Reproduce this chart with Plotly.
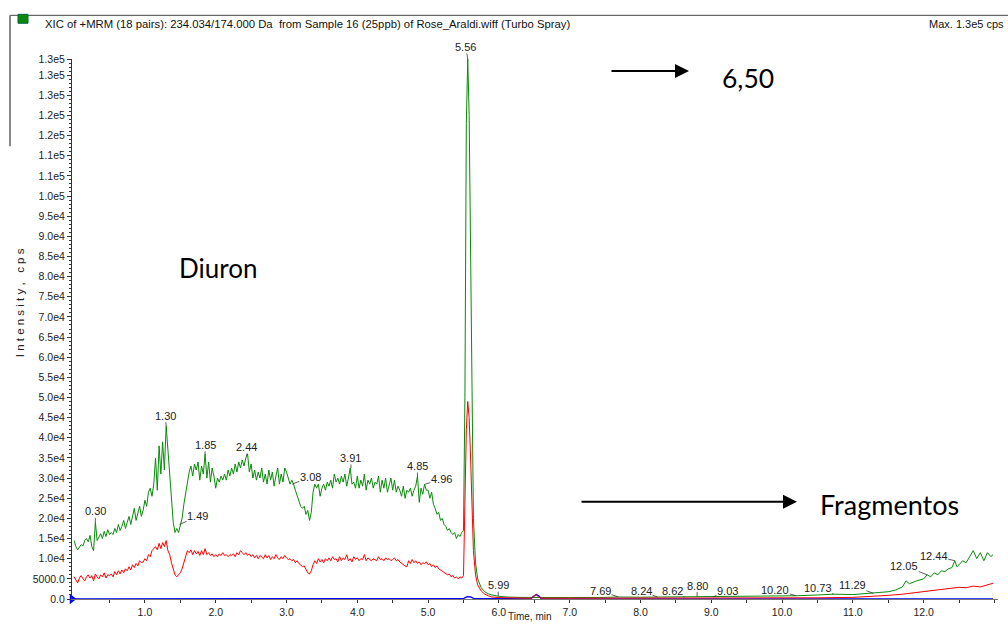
import numpy as np
import plotly.graph_objects as go

# ---------------- data (intensities in cps) ----------------
step = 0.025
dense_t = np.round(np.arange(0, 5.5 + step / 2, step), 3)

green_dense_k = [
    14.5, 13.0, 12.2, 13.0, 13.5, 13.2, 14.5, 15.0, 14.2, 15.8, 13.0, 12.0, 19.0, 14.5, 15.5, 16.2, 15.0, 16.8, 15.5, 17.2,
    16.0, 16.5, 16.0, 17.5, 16.5, 18.5, 17.0, 18.0, 19.5, 17.5, 19.0, 20.5, 18.5, 21.0, 22.5, 19.5, 21.5, 23.0, 20.5, 22.0,
    24.5, 23.0, 26.5, 27.5, 25.5, 28.5, 35.0, 27.0, 38.0, 31.0, 39.0, 32.0, 43.0, 37.0, 33.0, 25.0, 19.0, 16.5, 17.5, 16.5,
    18.5, 20.0, 23.5, 26.0, 29.5, 31.5, 33.0, 30.5, 33.5, 32.0, 34.0, 29.5, 33.0, 31.0, 36.0, 30.0, 34.0, 29.0, 32.5, 30.5,
    27.5, 30.0, 29.0, 30.5, 29.5, 31.0, 29.5, 32.0, 30.5, 32.5, 31.0, 33.5, 31.5, 34.0, 32.5, 34.5, 33.0, 35.0, 36.0, 31.5,
    33.5, 30.0, 32.0, 29.5, 31.5, 30.0, 32.5, 29.0, 31.0, 28.5, 32.0, 29.5, 31.5, 28.0, 30.5, 32.5, 28.5, 31.0, 29.0, 32.5,
    31.5, 30.0, 28.5, 29.5, 28.5, 27.0, 25.5, 24.5, 23.0, 22.5, 23.0, 21.0, 22.0, 19.5, 21.5, 26.5, 28.5, 27.5, 28.5, 25.5,
    27.5, 28.5, 27.0, 29.0, 28.0, 29.5, 27.5, 31.0, 29.0, 30.0, 28.5, 30.5, 29.0, 31.0, 28.0, 30.0, 32.5, 28.5, 29.0, 27.5,
    30.5, 27.5, 29.5, 28.0, 31.0, 27.0, 29.5, 28.5, 30.0, 27.5, 29.0, 28.5, 30.5, 26.5, 29.5, 27.5, 30.0, 26.5, 28.5, 30.0,
    27.0, 29.5, 26.5, 28.0, 27.0, 25.5, 28.0, 25.0, 27.0, 26.5, 27.5, 25.5, 27.0, 28.0, 30.5, 24.0, 27.5, 26.0, 28.5, 27.0,
    27.0, 25.0, 26.5, 23.5, 22.5, 21.0, 21.5, 19.5, 20.0, 18.5, 18.0, 17.0, 17.5, 16.5, 16.0, 16.5, 15.0, 16.0, 15.5, 16.5,
    17.0,
]
red_dense_k = [
    5.5, 4.8, 4.0, 5.2, 5.8, 5.0, 4.5, 5.5, 6.0, 5.2, 5.8, 4.5, 6.2, 5.5, 5.0, 6.0, 5.5, 6.5, 5.2, 6.0,
    5.8, 6.2, 5.5, 6.8, 6.0, 7.0, 6.2, 7.2, 6.5, 7.5, 7.0, 8.0, 7.2, 8.5, 7.8, 8.8, 8.2, 9.5, 9.0, 9.2,
    10.0, 9.5, 11.0, 10.5, 12.0, 12.5, 13.0, 12.2, 13.8, 12.5, 14.0, 13.0, 14.5, 12.0, 11.0, 9.0, 7.5, 6.0, 5.5, 6.0,
    6.5, 7.5, 9.0, 10.0, 12.0, 11.5, 12.2, 11.0, 12.0, 11.2, 11.8, 10.8, 12.0, 11.0, 12.5, 11.0, 11.5, 10.8, 11.2, 10.5,
    11.0, 10.5, 11.2, 10.8, 11.5, 10.8, 11.0, 10.5, 11.0, 10.8, 11.2, 10.5, 11.5, 11.0, 12.0, 11.5, 11.0, 11.5, 10.8, 11.2,
    10.5, 11.0, 10.2, 10.8, 10.0, 10.8, 10.5, 10.0, 11.0, 10.2, 10.8, 9.8, 10.5, 10.0, 11.0, 10.2, 9.8, 10.5, 10.0, 10.8,
    10.2, 9.8, 10.0, 9.5, 9.8, 9.0, 9.5, 8.8, 8.5, 8.0, 8.2, 7.5, 6.5, 6.2, 7.0, 8.5, 9.5, 8.8, 10.0, 9.2,
    9.8, 9.0, 10.0, 9.5, 10.2, 9.5, 10.5, 9.8, 10.0, 9.2, 10.5, 9.5, 10.2, 9.8, 11.0, 9.5, 10.0, 9.2, 10.5, 9.8,
    10.2, 9.5, 10.0, 9.8, 11.0, 9.5, 10.2, 9.8, 9.5, 10.0, 9.8, 9.5, 10.5, 9.8, 10.0, 9.5, 10.2, 9.8, 10.0, 9.5,
    9.8, 10.2, 9.5, 9.8, 9.2, 8.8, 8.5, 8.2, 8.0, 9.5, 8.8, 9.8, 9.0, 9.5, 8.8, 9.2, 8.5, 9.0, 8.8, 9.2,
    8.5, 8.8, 8.0, 8.5, 7.8, 8.2, 7.5, 7.2, 6.8, 6.5, 6.2, 6.0, 6.2, 5.5, 5.8, 5.2, 5.5, 5.0, 5.5, 5.2,
    5.8,
]

green_tail_t = [5.52, 5.54, 5.56, 5.58, 5.60, 5.62, 5.64, 5.67, 5.70, 5.75, 5.80, 5.85, 5.90, 5.99, 6.10, 6.30,
                6.50, 7.00, 7.50, 7.69, 8.00, 8.24, 8.62, 8.80, 9.03, 9.50, 10.00, 10.20, 10.50, 10.73, 11.00,
                11.29, 11.50, 11.60, 11.70, 11.75, 11.80, 11.90, 12.00, 12.05, 12.10, 12.15, 12.20, 12.25, 12.30,
                12.35, 12.40, 12.44, 12.47, 12.50, 12.55, 12.60, 12.65, 12.70, 12.75, 12.80, 12.85, 12.90, 12.95, 12.98]
green_tail_k = [50, 118, 134, 120, 85, 45, 20, 9, 5, 2.8, 1.8, 1.3, 1.0, 0.7, 0.5, 0.4,
                0.35, 0.35, 0.4, 0.5, 0.45, 0.5, 0.5, 0.6, 0.55, 0.6, 0.7, 0.8, 1.0, 1.2, 1.1,
                1.4, 1.8, 2.2, 3.0, 4.5, 3.8, 4.5, 5.0, 6.0, 5.5, 6.5, 6.0, 7.0, 6.8,
                7.5, 7.8, 9.5, 8.0, 8.5, 9.5, 9.0, 10.5, 12.0, 10.0, 11.5, 9.5, 11.5, 10.5, 11.0]

red_tail_t = [5.52, 5.54, 5.56, 5.58, 5.60, 5.62, 5.64, 5.67, 5.70, 5.75, 5.80, 5.85, 5.90, 6.00, 6.20, 6.45,
              6.50, 6.53, 6.56, 6.60, 7.00, 8.00, 9.00, 10.00, 10.50, 11.00, 11.30, 11.50, 11.70, 11.90,
              12.00, 12.10, 12.20, 12.30, 12.40, 12.50, 12.60, 12.70, 12.80, 12.90, 12.98]
red_tail_k = [25, 42, 49, 45, 35, 22, 12, 6, 3.5, 2.0, 1.2, 0.8, 0.5, 0.35, 0.25, 0.2,
              0.8, 1.0, 0.5, 0.2, 0.2, 0.2, 0.2, 0.25, 0.3, 0.4, 0.6, 0.9, 1.2, 1.6,
              1.8, 2.0, 2.3, 2.5, 2.6, 2.9, 2.8, 3.2, 3.0, 3.4, 3.9]

blue_t = [0.0, 5.50, 5.55, 5.60, 5.65, 6.45, 6.50, 6.53, 6.56, 6.60, 12.98]
blue_k = [0.05, 0.1, 0.6, 0.5, 0.1, 0.05, 0.8, 1.1, 0.8, 0.05, 0.05]

peak_labels = ["0.30", "1.30", "1.49", "1.85", "2.44", "3.08", "3.91", "4.85", "4.96", "5.56", "5.99",
               "7.69", "8.24", "8.62", "8.80", "9.03", "10.20", "10.73", "11.29", "12.05", "12.44"]
peak_vals_k = [19.0, 43.0, 18.5, 36.0, 35.5, 28.5, 32.5, 30.5, 28.5, 134.0, 0.7,
               0.5, 0.5, 0.5, 0.6, 0.55, 0.8, 1.2, 1.4, 6.0, 9.5]
# text offset (pixels) of each label from its peak
peak_ax = [0, -1, 18, 0, 0, 18, 0, 0, 16, -2, 0, -18, -16, -12, 0, 14, -21, -16, -21, -23, -21]
peak_ay = [-11, -10, -8, -9, -9, -7, -10, -10, -5, -12, -11, -6, -6, -6, -11, -6, -6, -6, -8, -9, -5]

y_tickvals = [i * 5000 for i in range(27)] + [134000]
y_ticktext = ["0.0", "5000.0", "1.0e4", "1.5e4", "2.0e4", "2.5e4", "3.0e4", "3.5e4", "4.0e4", "4.5e4",
              "5.0e4", "5.5e4", "6.0e4", "6.5e4", "7.0e4", "7.5e4", "8.0e4", "8.5e4", "9.0e4", "9.5e4",
              "1.0e5", "1.1e5", "1.1e5", "1.2e5", "1.2e5", "1.3e5", "1.3e5", "1.3e5"]
x_tickvals = [i * 0.5 for i in range(1, 27)]
x_ticktext = [("%.1f" % v) if abs(v - round(v)) < 1e-9 and v <= 12 else "" for v in x_tickvals]

Y_MAX = 134000
X_MIN, X_MAX = -0.03, 13.05

# ---------------- figure ----------------
W, H = 1008, 628
ML, MR, MT, MB = 72, 10, 59, 25
PW, PH = W - ML - MR, H - MT - MB


def px(x):
    return (x - ML) / PW


def py(y):
    return (H - MB - y) / PH


green_t = list(dense_t) + green_tail_t
green_v = [v * 1000 for v in green_dense_k + green_tail_k]
red_t = list(dense_t) + red_tail_t
red_v = [v * 1000 for v in red_dense_k + red_tail_k]
blue_v = [v * 1000 for v in blue_k]

fig = go.Figure()
fig.add_trace(go.Scatter(x=green_t, y=green_v, mode="lines",
                         line=dict(color="#0a8a0a", width=1), hoverinfo="skip"))
fig.add_trace(go.Scatter(x=blue_t, y=blue_v, mode="lines",
                         line=dict(color="#0000ff", width=1.3), hoverinfo="skip"))
fig.add_trace(go.Scatter(x=red_t, y=red_v, mode="lines",
                         line=dict(color="#ff0000", width=1), hoverinfo="skip"))
fig.add_trace(go.Scatter(x=[X_MIN], y=[0], mode="markers", cliponaxis=False,
                         marker=dict(symbol="triangle-right", size=9, color="#0000ff"),
                         hoverinfo="skip"))

FONT = "Liberation Sans, Arial, sans-serif"
ann = []
for lab, v, ax, ay in zip(peak_labels, peak_vals_k, peak_ax, peak_ay):
    ann.append(dict(x=float(lab), y=v * 1000, xref="x", yref="y", text=lab,
                    showarrow=True, arrowhead=0, arrowwidth=0.8, arrowcolor="#333",
                    ax=ax, ay=ay, standoff=0, startstandoff=0,
                    font=dict(family=FONT, size=11, color="#222"), borderpad=0))

# header texts
ann.append(dict(x=px(43), y=py(24), xref="paper", yref="paper", xanchor="left", yanchor="middle",
                text="XIC of +MRM (18 pairs): 234.034/174.000 Da  from Sample 16 (25ppb) of Rose_Araldi.wiff (Turbo Spray)",
                showarrow=False, font=dict(family=FONT, size=11.3, color="#111")))
ann.append(dict(x=px(1006), y=py(24), xref="paper", yref="paper", xanchor="right", yanchor="middle",
                text="Max. 1.3e5 cps", showarrow=False, font=dict(family=FONT, size=11, color="#111")))
# axis titles
ann.append(dict(x=px(20), y=py(305), xref="paper", yref="paper", xanchor="center", yanchor="middle",
                text="I n t e n s i t y ,   c p s", textangle=-90, showarrow=False,
                font=dict(family=FONT, size=11.5, color="#222")))
ann.append(dict(x=px(530), y=py(628), xref="paper", yref="paper", xanchor="center", yanchor="bottom",
                text="Time, min", showarrow=False, font=dict(family=FONT, size=10, color="#222")))
# big annotations
BIG = "Lato, Open Sans, sans-serif"
ann.append(dict(x=px(218), y=py(270), xref="paper", yref="paper", xanchor="center", yanchor="middle",
                text="Diuron", showarrow=False, font=dict(family=BIG, size=26, color="#000")))
ann.append(dict(x=px(748), y=py(78), xref="paper", yref="paper", xanchor="center", yanchor="middle",
                text="6,50", showarrow=False, font=dict(family=BIG, size=26.5, color="#000")))
ann.append(dict(x=px(889), y=py(508), xref="paper", yref="paper", xanchor="center", yanchor="middle",
                text="Fragmentos", showarrow=False, font=dict(family=BIG, size=27, color="#000")))
# arrows
ann.append(dict(x=px(689), y=py(71), xref="paper", yref="paper", ax=-(689 - 610), ay=0,
                axref="pixel", ayref="pixel", text="", showarrow=True, arrowhead=2,
                arrowsize=1.4, arrowwidth=2, arrowcolor="#000"))
ann.append(dict(x=px(797), y=py(505), xref="paper", yref="paper", ax=-(797 - 580), ay=0,
                axref="pixel", ayref="pixel", text="", showarrow=True, arrowhead=2,
                arrowsize=1.4, arrowwidth=2, arrowcolor="#000"))

shapes = [
    dict(type="line", xref="paper", yref="paper", x0=px(10), x1=px(1008), y0=py(15), y1=py(15),
         line=dict(color="#444", width=1)),
    dict(type="line", xref="paper", yref="paper", x0=px(10), x1=px(10), y0=py(15), y1=py(147),
         line=dict(color="#888", width=2)),
    dict(type="rect", xref="paper", yref="paper", x0=px(18), x1=px(28), y0=py(14), y1=py(23),
         fillcolor="#0a8a0a", line=dict(color="#064", width=1)),
]

fig.update_layout(
    width=W, height=H, margin=dict(l=ML, r=MR, t=MT, b=MB),
    paper_bgcolor="white", plot_bgcolor="white", showlegend=False,
    annotations=ann, shapes=shapes,
    xaxis=dict(range=[X_MIN, X_MAX], tickmode="array", tickvals=x_tickvals, ticktext=x_ticktext,
               ticks="outside", ticklen=3, tickcolor="#333", showgrid=False, zeroline=False,
               showline=True, linecolor="#777", linewidth=1,
               tickfont=dict(family=FONT, size=10.5, color="#222")),
    yaxis=dict(range=[0, Y_MAX], tickmode="array", tickvals=y_tickvals, ticktext=y_ticktext,
               ticks="outside", ticklen=4, tickcolor="#333", showgrid=False, zeroline=False,
               showline=True, linecolor="#333", linewidth=1,
               tickfont=dict(family=FONT, size=10.5, color="#222"),
               minor=dict(tickmode="linear", tick0=0, dtick=1000, ticks="outside", ticklen=2,
                          tickcolor="#333")),
)

fig.write_html("out.html")
